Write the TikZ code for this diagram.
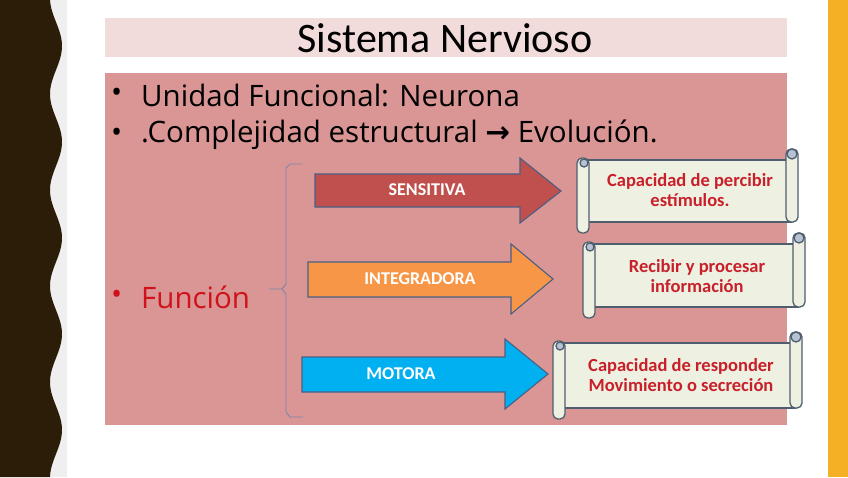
\documentclass[tikz,border=0pt]{standalone}
\usepackage{fontspec}
\setmainfont{Carlito}
\newfontfamily\bulletfont{Open Sans}
\newfontfamily\symfont{DejaVu Sans}
\definecolor{darkstrip}{HTML}{2B1D08}
\definecolor{greystrip}{HTML}{EFEFEF}
\definecolor{orangestrip}{HTML}{F5B025}
\definecolor{titlepink}{HTML}{F2DCDB}
\definecolor{mainpink}{HTML}{D99694}
\definecolor{arrowred}{HTML}{C0504D}
\definecolor{arroworange}{HTML}{F79646}
\definecolor{arrowcyan}{HTML}{00B0F0}
\definecolor{arrowline}{HTML}{4A5F85}
\definecolor{scrollfill}{HTML}{EEF0E2}
\definecolor{scrollline}{HTML}{4F5E6E}
\definecolor{rollfill}{HTML}{B7C3D3}
\definecolor{scrolltext}{HTML}{C8202A}
\definecolor{bracecol}{HTML}{7C86B0}
\definecolor{funcred}{HTML}{D0121B}
\tikzset{
  arrowshape/.style={draw=arrowline, line width=1.1pt, line join=miter},
  arrowlabel/.style={text=white, font=\fontsize{18}{21}\selectfont\bfseries},
  scrollshape/.style={draw=scrollline, line width=1.3pt, fill=scrollfill, line join=round},
  scrolllabel/.style={text=scrolltext, align=center, font=\fontsize{18.5}{19.5}\selectfont\bfseries},
  bullettext/.style={anchor=west, font=\bulletfont\fontsize{29.5}{34}\selectfont, inner sep=0pt},
  bulletdot/.style={anchor=west, font=\bulletfont\fontsize{29.5}{34}\selectfont, inner sep=0pt},
}
% #1 x1, #2 y1 (top of body), #3 x2, #4 y2 (bottom of body)
\newcommand\drawscroll[4]{%
  \filldraw[scrollshape] (#1+6,#2) rectangle (#3-6,#4);
  \filldraw[scrollshape, rounded corners=5pt] (#1,#2-2) rectangle (#1+12,#4+11);
  \filldraw[scrollshape, fill=rollfill] (#1+7,#2+3) circle (4);
  \filldraw[scrollshape, rounded corners=5pt] (#3-12,#2-11) rectangle (#3,#4);
  \filldraw[scrollshape, fill=rollfill] (#3-6,#2-6) circle (5);
}
\begin{document}
\begin{tikzpicture}[x=1pt,y=-1pt]
\useasboundingbox (0,0) rectangle (848,477);
\fill[white] (0,0) rectangle (848,477);
% left strips
\fill[greystrip] (0,0) rectangle (67,477);
\fill[darkstrip] (0,0) -- plot[domain=0:477, samples=160, smooth] ({56+6*sin(3.75*(\x-22))}, \x) -- (0,477) -- cycle;
% right strip
\fill[orangestrip] (828,0) rectangle (848,477);
% title
\fill[titlepink] (105,18) rectangle (787,57);
\node[font=\fontsize{42}{46}\selectfont, inner sep=0pt] (title) at (445,38) {Sistema Nervioso};
% main box
\fill[mainpink] (105,73) rectangle (787,425);
\node[bulletdot] (b1dot) at (111,95) {•};
\node[bullettext] (b1) at (141,95) {Unidad Funcional: Neurona};
\node[bulletdot] (b2dot) at (111,135) {•};
\node[bullettext] (b2) at (141,135) {.Complejidad estructural {\symfont\bfseries →} Evolución.};
\node[bulletdot, text=funcred] (b3dot) at (111,297) {•};
\node[bullettext, text=funcred] (b3) at (141,297) {Función};
% brace
\draw[bracecol, line width=0.9pt] (302,164) -- (290,164) -- (286,168) -- (286,284) -- (282,289) -- (269,289)
  (282,289) -- (286,294) -- (286,412) -- (290,417) -- (303,417);
\coordinate (bracetip) at (269,289);
% arrows
\filldraw[arrowshape, fill=arrowred] (315,174) -- (520,174) -- (520,158) -- (561,191) -- (520,223) -- (520,207) -- (315,207) -- cycle;
\node[arrowlabel] (sens) at (427,190) {SENSITIVA};
\filldraw[arrowshape, fill=arroworange] (308,262) -- (511,262) -- (511,244) -- (553,279) -- (511,314) -- (511,297) -- (308,297) -- cycle;
\node[arrowlabel] (integ) at (420,279) {INTEGRADORA};
\filldraw[arrowshape, fill=arrowcyan] (302,357) -- (505,357) -- (505,339) -- (548,374) -- (505,409) -- (505,392) -- (302,392) -- cycle;
\node[arrowlabel] (motora) at (401,374) {MOTORA};
% scrolls
\drawscroll{577}{160}{798}{222}
\node[scrolllabel] (s1) at (690,190) {Capacidad de percibir\\estímulos.};
\drawscroll{583}{244}{805}{307}
\node[scrolllabel] (s2) at (697,276) {Recibir y procesar\\información};
\drawscroll{553}{343}{802}{408}
\node[scrolllabel] (s3) at (681,375) {Capacidad de responder\\Movimiento o secreción};
\end{tikzpicture}
\end{document}
